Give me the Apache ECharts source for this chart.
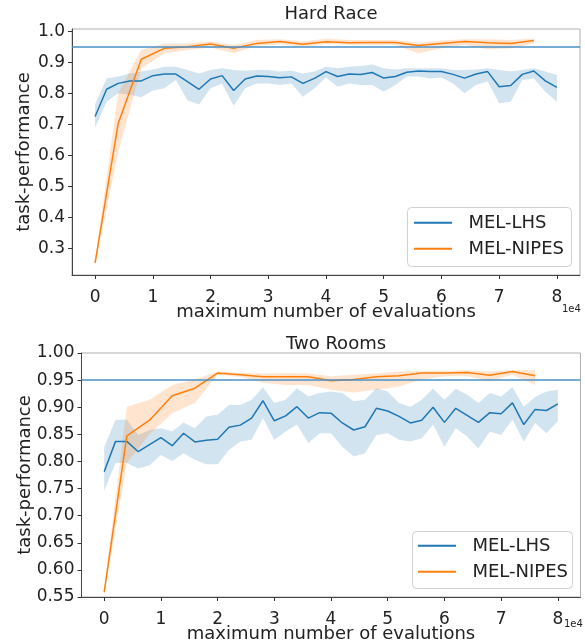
<!DOCTYPE html>
<html>
  <head>
    <title>task-performance</title>
    <script src="https://cdn.jsdelivr.net/npm/echarts@6/dist/echarts.min.js"></script>
    <style>
      html, body { margin: 0; padding: 0; background: #fff; }
    </style>
  </head>
  <body>
    <div id="chart" style="width: 585px; height: 640px;"></div>
    <script type="text/javascript">
      // evaluations at which each method was measured
      var evalsLHS = [0, 2000, 4000, 6000, 8000, 10000, 12000, 14000, 16000, 18000,
        20000, 22000, 24000, 26000, 28000, 30000, 32000, 34000, 36000, 38000,
        40000, 42000, 44000, 46000, 48000, 50000, 52000, 54000, 56000, 58000,
        60000, 62000, 64000, 66000, 68000, 70000, 72000, 74000, 76000, 78000, 80000];
      var evalsNIPES = [0, 4000, 8000, 12000, 16000, 20000, 24000, 28000, 32000, 36000,
        40000, 44000, 48000, 52000, 56000, 60000, 64000, 68000, 72000, 76000];

      // Hard Race
      var hardLhsMean = [0.725, 0.813, 0.832, 0.840, 0.840, 0.857, 0.862, 0.862, 0.838, 0.813,
        0.846, 0.857, 0.809, 0.846, 0.856, 0.854, 0.850, 0.853, 0.832, 0.848,
        0.870, 0.854, 0.862, 0.861, 0.867, 0.849, 0.854, 0.868, 0.872, 0.870,
        0.870, 0.861, 0.849, 0.862, 0.870, 0.821, 0.825, 0.861, 0.872, 0.840, 0.819];
      var hardLhsLow = [0.690, 0.773, 0.800, 0.795, 0.787, 0.809, 0.816, 0.843, 0.778, 0.764,
        0.816, 0.832, 0.760, 0.816, 0.832, 0.832, 0.827, 0.832, 0.789, 0.816,
        0.851, 0.821, 0.832, 0.827, 0.827, 0.805, 0.827, 0.854, 0.854, 0.848,
        0.851, 0.832, 0.800, 0.827, 0.838, 0.768, 0.773, 0.843, 0.848, 0.805, 0.773];
      var hardLhsHigh = [0.765, 0.848, 0.854, 0.864, 0.870, 0.877, 0.886, 0.886, 0.875, 0.864,
        0.875, 0.881, 0.875, 0.873, 0.875, 0.875, 0.870, 0.873, 0.864, 0.870,
        0.886, 0.881, 0.886, 0.888, 0.893, 0.881, 0.877, 0.881, 0.881, 0.881,
        0.881, 0.875, 0.875, 0.877, 0.881, 0.875, 0.870, 0.875, 0.881, 0.870, 0.859];
      var hardNipesMean = [0.253, 0.703, 0.910, 0.945, 0.950, 0.959, 0.945, 0.961, 0.967, 0.958,
        0.966, 0.963, 0.964, 0.964, 0.954, 0.961, 0.967, 0.963, 0.961, 0.970];
      var hardNipesLow = [0.245, 0.610, 0.880, 0.929, 0.940, 0.948, 0.929, 0.953, 0.958, 0.951,
        0.959, 0.957, 0.957, 0.956, 0.929, 0.945, 0.956, 0.942, 0.945, 0.961];
      var hardNipesHigh = [0.261, 0.800, 0.940, 0.961, 0.961, 0.967, 0.956, 0.972, 0.974, 0.967,
        0.976, 0.972, 0.972, 0.972, 0.963, 0.970, 0.974, 0.974, 0.972, 0.977];

      // Two Rooms
      var roomsLhsMean = [0.781, 0.837, 0.837, 0.818, 0.831, 0.844, 0.829, 0.852, 0.836, 0.839,
        0.841, 0.863, 0.867, 0.880, 0.912, 0.875, 0.884, 0.901, 0.880, 0.890,
        0.889, 0.871, 0.858, 0.864, 0.898, 0.893, 0.883, 0.871, 0.876, 0.900,
        0.872, 0.898, 0.885, 0.872, 0.890, 0.888, 0.908, 0.868, 0.896, 0.894, 0.906];
      var roomsLhsLow = [0.746, 0.797, 0.797, 0.787, 0.793, 0.812, 0.801, 0.815, 0.803, 0.795,
        0.795, 0.821, 0.837, 0.840, 0.880, 0.840, 0.855, 0.868, 0.834, 0.852,
        0.852, 0.827, 0.809, 0.815, 0.849, 0.852, 0.840, 0.837, 0.843, 0.868,
        0.827, 0.861, 0.846, 0.824, 0.855, 0.849, 0.877, 0.837, 0.871, 0.852, 0.874];
      var roomsLhsHigh = [0.826, 0.877, 0.877, 0.849, 0.858, 0.861, 0.855, 0.872, 0.861, 0.883,
        0.886, 0.904, 0.904, 0.914, 0.937, 0.908, 0.914, 0.935, 0.920, 0.926,
        0.929, 0.926, 0.911, 0.914, 0.935, 0.929, 0.908, 0.901, 0.914, 0.934,
        0.914, 0.934, 0.923, 0.908, 0.926, 0.920, 0.937, 0.901, 0.919, 0.929, 0.932];
      var roomsNipesMean = [0.559, 0.847, 0.876, 0.921, 0.935, 0.963, 0.960, 0.956, 0.956, 0.956,
        0.949, 0.951, 0.956, 0.958, 0.963, 0.963, 0.964, 0.959, 0.966, 0.958];
      var roomsNipesLow = [0.553, 0.797, 0.850, 0.889, 0.908, 0.960, 0.956, 0.945, 0.941, 0.941,
        0.932, 0.927, 0.932, 0.938, 0.951, 0.957, 0.957, 0.948, 0.960, 0.941];
      var roomsNipesHigh = [0.565, 0.901, 0.914, 0.941, 0.951, 0.966, 0.963, 0.962, 0.963, 0.962,
        0.957, 0.960, 0.962, 0.966, 0.967, 0.967, 0.968, 0.966, 0.968, 0.968];

      var xTicks = [0, 10000, 20000, 30000, 40000, 50000, 60000, 70000, 80000];
      var hardYTicks = [0.3, 0.4, 0.5, 0.6, 0.7, 0.8, 0.9, 1.0];
      var roomsYTicks = [0.55, 0.60, 0.65, 0.70, 0.75, 0.80, 0.85, 0.90, 0.95, 1.00];
      var target = 0.95;

      var FONT = "DejaVu Sans";
      var BLUE = "#1f77b4";
      var ORANGE = "#ff7f0e";

      function pairs(xs, ys) {
        return xs.map(function (x, i) { return [x, ys[i]]; });
      }

      // every other tick label, so neighbouring labels never get dropped as "overlapping"
      function every2(arr, start) {
        return arr.filter(function (v, i) { return i % 2 === start; });
      }

      function xAxis(idx, name) {
        return {
          type: "value", gridIndex: idx, min: -4000, max: 84000,
          name: name, nameLocation: "middle", nameGap: 19, nameMoveOverlap: false,
          nameTextStyle: { fontFamily: FONT, fontSize: 18, color: "#222" },
          axisLine: { show: true, onZero: false, lineStyle: { color: "#444", width: 1 } },
          axisTick: { show: true, inside: false, length: 4, customValues: xTicks,
            lineStyle: { color: "#333" } },
          axisLabel: { customValues: xTicks, margin: 6, fontFamily: FONT, fontSize: 17, color: "#222",
            showMinLabel: true, showMaxLabel: true, hideOverlap: false,
            formatter: function (v) { return String(v / 10000); } },
          splitLine: { show: false }
        };
      }

      function yAxisMain(idx, min, max, ticks, gap) {
        return {
          type: "value", gridIndex: idx, min: min, max: max,
          name: "task-performance", nameLocation: "middle", nameGap: gap, nameMoveOverlap: false,
          nameTextStyle: { fontFamily: FONT, fontSize: 18, color: "#222" },
          axisLine: { show: true, onZero: false, lineStyle: { color: "#444", width: 1 } },
          axisTick: { show: true, inside: false, length: 4, customValues: ticks,
            lineStyle: { color: "#333" } },
          axisLabel: { show: false },
          splitLine: { show: false }
        };
      }

      function yAxisLabels(idx, min, max, values, digits) {
        return {
          type: "value", gridIndex: idx, min: min, max: max, position: "left",
          axisLine: { show: false, onZero: false },
          axisTick: { show: false },
          axisLabel: { customValues: values, margin: 7, fontFamily: FONT, fontSize: 17, color: "#222",
            showMinLabel: true, showMaxLabel: true, hideOverlap: false,
            formatter: function (v) { return v.toFixed(digits); } },
          splitLine: { show: false }
        };
      }

      function band(idx, yIdx, xs, lo, hi, color) {
        return {
          type: "custom", xAxisIndex: idx, yAxisIndex: yIdx, silent: true, z: 1,
          data: pairs(xs, lo),
          renderItem: function (params, api) {
            if (params.dataIndex !== 0) return;
            var pts = [];
            for (var i = 0; i < xs.length; i++) pts.push(api.coord([xs[i], hi[i]]));
            for (var j = xs.length - 1; j >= 0; j--) pts.push(api.coord([xs[j], lo[j]]));
            return { type: "polygon", shape: { points: pts }, style: { fill: color } };
          }
        };
      }

      function meanLine(idx, yIdx, name, xs, ys, color, withTarget) {
        var s = {
          type: "line", name: name, xAxisIndex: idx, yAxisIndex: yIdx,
          data: pairs(xs, ys), symbol: "none", z: 3, silent: true,
          lineStyle: { color: color, width: 1.5 }, itemStyle: { color: color }
        };
        if (withTarget) {
          s.markLine = {
            silent: true, symbol: "none", label: { show: false },
            lineStyle: { color: "#4a91c7", width: 1.5, type: "solid" },
            data: [{ yAxis: target }]
          };
        }
        return s;
      }

      // one legend per entry so the row spacing can be set exactly
      function legendItem(name, left, centerY) {
        return {
          orient: "vertical", left: left, top: centerY - 17, padding: 0, z: 6,
          data: [name],
          icon: "rect", itemWidth: 38, itemHeight: 2,
          formatter: function (n) { return "  " + n; },
          textStyle: { fontFamily: FONT, fontSize: 18, color: "#222" },
          selectedMode: false
        };
      }

      function legendFrame(x, y, w, h) {
        return {
          type: "rect", z: 5, silent: true,
          shape: { x: x + 0.5, y: y + 0.5, width: w, height: h, r: 4 },
          style: { fill: "rgba(255,255,255,0.85)", stroke: "#d0d0d0", lineWidth: 1 }
        };
      }

      var chart = echarts.init(document.getElementById("chart"), null, { renderer: "canvas" });
      chart.setOption({
        animation: false,
        backgroundColor: "#fff",
        title: [
          { text: "Hard Race", left: 326, top: -9, textAlign: "center",
            textStyle: { fontFamily: FONT, fontSize: 18, fontWeight: "normal", color: "#222" } },
          { text: "Two Rooms", left: 331, top: 321, textAlign: "center",
            textStyle: { fontFamily: FONT, fontSize: 18, fontWeight: "normal", color: "#222" } }
        ],
        grid: [
          { left: 72, right: 5, top: 29, height: 246, show: true, borderColor: "#b0b0b0",
            borderWidth: 1, outerBoundsMode: "none", containLabel: false },
          { left: 81.5, right: 4.5, top: 353, height: 244, show: true, borderColor: "#b0b0b0",
            borderWidth: 1, outerBoundsMode: "none", containLabel: false }
        ],
        xAxis: [
          xAxis(0, "maximum number of evaluations"),
          xAxis(1, "maximum number of evalutions")
        ],
        yAxis: [
          yAxisMain(0, 0.214, 1.0074, hardYTicks, 30),
          yAxisLabels(0, 0.214, 1.0074, every2(hardYTicks, 0), 1),
          yAxisLabels(0, 0.214, 1.0074, every2(hardYTicks, 1), 1),
          yAxisMain(1, 0.55, 1.0, roomsYTicks, 38),
          yAxisLabels(1, 0.55, 1.0, every2(roomsYTicks, 0), 2),
          yAxisLabels(1, 0.55, 1.0, every2(roomsYTicks, 1), 2)
        ],
        legend: [
          legendItem("MEL-LHS", 414, 222),
          legendItem("MEL-NIPES", 414, 248),
          legendItem("MEL-LHS", 418, 545),
          legendItem("MEL-NIPES", 418, 571)
        ],
        graphic: [
          legendFrame(407, 207, 164, 59),
          legendFrame(412, 531, 160, 57),
          { type: "text", left: 562, top: 299,
            style: { text: "1e4", font: "10px " + FONT, fill: "#222" } },
          { type: "text", left: 564, top: 614,
            style: { text: "1e4", font: "10px " + FONT, fill: "#222" } }
        ],
        series: [
          band(0, 0, evalsLHS, hardLhsLow, hardLhsHigh, "rgba(31,119,180,0.2)"),
          band(0, 0, evalsNIPES, hardNipesLow, hardNipesHigh, "rgba(255,127,14,0.2)"),
          meanLine(0, 0, "MEL-LHS", evalsLHS, hardLhsMean, BLUE, true),
          meanLine(0, 0, "MEL-NIPES", evalsNIPES, hardNipesMean, ORANGE, false),
          band(1, 3, evalsLHS, roomsLhsLow, roomsLhsHigh, "rgba(31,119,180,0.2)"),
          band(1, 3, evalsNIPES, roomsNipesLow, roomsNipesHigh, "rgba(255,127,14,0.2)"),
          meanLine(1, 3, "MEL-LHS", evalsLHS, roomsLhsMean, BLUE, true),
          meanLine(1, 3, "MEL-NIPES", evalsNIPES, roomsNipesMean, ORANGE, false)
        ]
      });
    </script>
  </body>
</html>
